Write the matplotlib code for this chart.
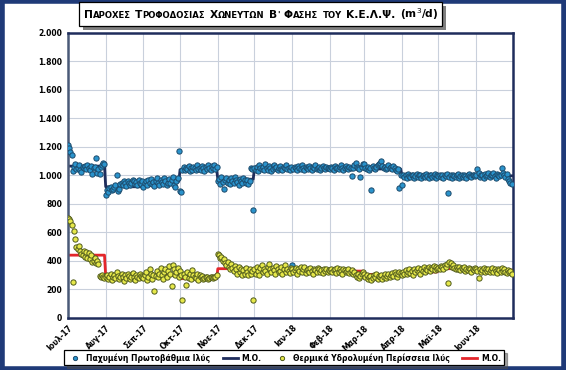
import numpy as np
import pandas as pd
import matplotlib.pyplot as plt
import matplotlib.dates as mdates
import matplotlib.patheffects as pe
from matplotlib.patches import Rectangle
from matplotlib.offsetbox import TextArea, HPacker, AnchoredOffsetbox
from matplotlib.ticker import FuncFormatter

# daily values, Jul 2017 - Jun 2018 (m3/d)
# Παχυμένη Πρωτοβάθμια Ιλύς
pp = [
    [1210, 1190, 1165, 1145, 1030, 1060, 1080, 1045, 1050, 1070, 1040, 1025, 1060, 1055, 1065, 1045,
     1075, 1050, 1040, 1065, 1010, 1050, 1060, 1120, 1020, 1045, 1010, 1060, 1075, 1090, 1080],
    [860, 900, 885, 910, 920, 895, 905, 915, 930, 1000, 890, 905, 940, 950, 930, 960,
     945, 925, 960, 950, 935, 945, 970, 960, 940, 955, 930, 965, 950, 940, 960],
    [920, 945, 960, 930, 965, 950, 975, 940, 955, 925, 960, 980, 945, 930, 970, 955,
     940, 985, 960, 930, 950, 975, 945, 965, 990, 935, 920, 960, 980, 1170],
    [890, 880, 1040, 1060, 1035, 1050, 1045, 1065, 1030, 1055, 1040, 1060, 1050, 1035, 1070, 1045,
     1055, 1040, 1065, 1050, 1030, 1060, 1045, 1075, 1055, 1040, 1065, 1050, 1070, 1045, 1060],
    [960, 975, 940, 990, 955, 905, 970, 985, 950, 965, 940, 980, 960, 945, 990, 970,
     955, 935, 975, 960, 945, 985, 965, 950, 970, 940, 960, 1050, 1045, 760],
    [1050, 1040, 1060, 1030, 1075, 1050, 1045, 1060, 1035, 1080, 1050, 1040, 1065, 1055, 1030, 1045,
     1070, 1050, 1060, 1040, 1055, 1065, 1045, 1035, 1060, 1050, 1070, 1045, 1055, 1040, 1060],
    [370, 1045, 1060, 1050, 1040, 1065, 1055, 1045, 1070, 1050, 1040, 1060, 1055, 1045, 1065, 1050,
     1040, 1060, 1055, 1070, 1045, 1050, 1060, 1040, 1055, 1065, 1050, 1045, 1060, 1055, 1050],
    [1045, 1060, 1050, 1040, 1065, 1055, 1050, 1045, 1060, 1070, 1050, 1040, 1055, 1065,
     1050, 1045, 1060, 1055, 995, 1050, 1070, 1085, 1060, 1050, 1045, 990, 1060, 1080],
    [1080, 1055, 1045, 1060, 1040, 1050, 900, 1065, 1055, 1045, 1060, 1070, 1080, 1090, 1100, 1065,
     1050, 1060, 1045, 1055, 1070, 1050, 1060, 1045, 1065, 1055, 1040, 1030, 1045, 910, 1000],
    [935, 1005, 990, 1000, 985, 1010, 995, 990, 1005, 1000, 985, 995, 1010, 990, 1000,
     1005, 985, 995, 1000, 990, 1010, 995, 985, 1000, 1005, 990, 995, 1010, 985, 1000],
    [995, 1000, 990, 1005, 985, 1000, 995, 1010, 875, 990, 1000, 985, 1005, 995, 990, 1000,
     1010, 985, 995, 1000, 990, 1005, 995, 985, 1000, 1010, 995, 990, 1000, 1005, 995],
    [1000, 1045, 1020, 990, 1005, 1000, 985, 1010, 995, 1000, 1015, 990, 1005, 1000, 1020,
     995, 985, 1010, 1000, 995, 1005, 1050, 1020, 1000, 990, 1010, 975, 960, 950, 940],
]
# Θερμικά Υδρολυμένη Περίσσεια Ιλύς
th = [
    [700, 695, 680, 650, 255, 610, 550, 500, 480, 505, 470, 450, 440, 470, 430, 460,
     420, 455, 410, 440, 395, 400, 420, 385, 400, 380, 295, 285, 300, 290, 280],
    [290, 300, 275, 285, 310, 265, 290, 300, 280, 320, 295, 270, 285, 305, 290, 260,
     300, 280, 310, 295, 275, 290, 315, 285, 265, 300, 290, 280, 305, 295, 285],
    [280, 300, 320, 265, 290, 340, 310, 270, 300, 185, 295, 330, 285, 310, 350,
     300, 275, 320, 345, 290, 330, 365, 310, 225, 370, 340, 300, 320, 350, 290],
    [330, 300, 125, 310, 290, 232, 320, 280, 305, 270, 335, 300, 290, 280, 310, 265,
     300, 285, 295, 275, 280, 285, 290, 275, 280, 285, 290, 280, 285, 290, 300],
    [450, 440, 420, 430, 400, 410, 385, 370, 395, 360, 340, 380, 350, 330, 365,
     340, 310, 355, 320, 345, 300, 335, 310, 350, 320, 300, 340, 310, 330, 125],
    [340, 310, 360, 330, 300, 350, 370, 320, 345, 330, 310, 360, 380, 340, 320, 350,
     335, 310, 365, 345, 320, 330, 355, 310, 340, 370, 325, 345, 330, 315, 350],
    [345, 320, 335, 350, 310, 340, 330, 355, 320, 345, 360, 315, 335, 340, 325, 350,
     330, 310, 345, 335, 320, 350, 340, 325, 335, 315, 345, 330, 340, 320, 335],
    [330, 345, 320, 335, 340, 315, 350, 325, 340, 330, 310, 345, 335, 320,
     330, 340, 315, 325, 335, 310, 320, 300, 290, 310, 280, 295, 305, 320],
    [310, 290, 300, 275, 285, 295, 265, 280, 300, 290, 310, 275, 295, 285, 300, 270,
     290, 305, 280, 295, 310, 285, 300, 315, 295, 320, 305, 290, 310, 325, 315],
    [300, 320, 310, 335, 305, 325, 340, 315, 330, 300, 345, 320, 335, 350, 325,
     310, 340, 330, 355, 320, 345, 335, 360, 330, 350, 340, 365, 335, 355, 345],
    [350, 340, 365, 355, 345, 370, 360, 380, 246, 395, 385, 360, 370, 350, 340, 355,
     345, 360, 335, 350, 340, 355, 330, 345, 335, 350, 340, 325, 345, 335, 350],
    [340, 330, 281, 345, 320, 335, 350, 325, 340, 330, 345, 320, 335, 350, 325,
     340, 330, 315, 345, 335, 320, 350, 330, 340, 325, 315, 335, 320, 330, 310],
]
# monthly averages (Μ.Ο.)
pp_mean = [1065, 920, 958, 1040, 973, 1045, 1050, 1050, 1045, 1000, 997, 997]
th_mean = [440, 290, 300, 275, 345, 335, 333, 328, 305, 322, 345, 335]

month_labels = ['Ιουλ-17', 'Αυγ-17', 'Σεπ-17', 'Οκτ-17', 'Νοε-17', 'Δεκ-17',
                'Ιαν-18', 'Φεβ-18', 'Μαρ-18', 'Απρ-18', 'Μαϊ-18', 'Ιουν-18']

days = sum(len(m) for m in pp)
dates = pd.date_range('2017-07-01', periods=days, freq='D')
pp_daily = np.concatenate(pp)
th_daily = np.concatenate(th)
pp_mean_daily = np.repeat(pp_mean, [len(m) for m in pp])
th_mean_daily = np.repeat(th_mean, [len(m) for m in th])

navy = '#1f2d5c'
fig = plt.figure(figsize=(5.66, 3.70), dpi=100)
ax = fig.add_axes([0.120, 0.141, 0.786, 0.770])

ax.plot(dates, pp_mean_daily, color=navy, lw=2, zorder=2, label='Μ.Ο.')
ax.plot(dates, th_mean_daily, color='#e3262b', lw=2, zorder=2, label='Μ.Ο.')
ax.plot(dates, pp_daily, ls='none', marker='o', ms=3.8, mfc='#2a93cc', mec='#1c4a6b',
        mew=0.7, zorder=3, label='Παχυμένη Πρωτοβάθμια Ιλύς')
ax.plot(dates, th_daily, ls='none', marker='o', ms=3.8, mfc='#e6e84a', mec='#4f5a1c',
        mew=0.7, zorder=3, label='Θερμικά Υδρολυμένη Περίσσεια Ιλύς')

ax.set_ylim(0, 2000)
ax.set_yticks(np.arange(0, 2001, 200))
ax.yaxis.set_major_formatter(FuncFormatter(lambda v, p: f'{int(v):,}'.replace(',', '.')))
ax.set_xlim(pd.Timestamp('2017-07-01'), pd.Timestamp('2018-07-01'))
ax.xaxis.set_major_locator(mdates.MonthLocator())
ticks = ax.get_xticks()[:12]
ax.set_xticks(ticks)
ax.set_xticklabels(month_labels, rotation=45, ha='right', rotation_mode='anchor')
ax.tick_params(length=0, labelsize=5.5, pad=4)
for t in ax.get_xticklabels() + ax.get_yticklabels():
    t.set_fontweight('bold')
ax.grid(color='#c9d0dc', lw=0.8)
ax.set_axisbelow(True)
for s in ax.spines.values():
    s.set_color(navy)
    s.set_linewidth(1.8)
ax.spines['left'].set_color('#4a5a78')

# legend
h, l = ax.get_legend_handles_labels()
order = [2, 0, 3, 1]
leg = fig.legend([h[i] for i in order], [l[i] for i in order], loc='center',
                 bbox_to_anchor=(0.502, 0.033), ncol=4, fontsize=5.5, frameon=True,
                 fancybox=False, edgecolor='black', shadow=True, handlelength=2.0,
                 columnspacing=1.6, handletextpad=0.5, borderpad=0.35, markerscale=0.8)
leg.get_frame().set_linewidth(0.9)
for t in leg.get_texts():
    t.set_fontweight('bold')

# title in small caps
title_words = ['Παροχες', 'Τροφοδοσιας', 'Χωνευτων', "Β'", 'Φασης', 'του', 'Κ.Ε.Λ.Ψ.']
big, small = 7.7, 6.1
words = []
for w in title_words:
    parts = []
    if '.' in w:
        parts.append(TextArea(w, textprops=dict(size=big, weight='bold')))
    elif w[0].isupper():
        parts.append(TextArea(w[0], textprops=dict(size=big, weight='bold')))
        if len(w) > 1:
            parts.append(TextArea(w[1:].upper(), textprops=dict(size=small, weight='bold')))
    else:
        parts.append(TextArea(w.upper(), textprops=dict(size=small, weight='bold')))
    words.append(HPacker(children=parts, align='baseline', pad=0, sep=0))
words.append(TextArea('(m$^3$/d)', textprops=dict(size=big, weight='bold')))
title = HPacker(children=words, align='baseline', pad=0, sep=3.2)
tbox = AnchoredOffsetbox(loc='center', child=title, pad=0.3, borderpad=0, frameon=True,
                         bbox_to_anchor=(0.461, 0.961), bbox_transform=fig.transFigure)
tbox.patch.set_edgecolor('black')
tbox.patch.set_linewidth(0.9)
tbox.patch.set_boxstyle('square', pad=0)
tbox.patch.set_path_effects([pe.SimplePatchShadow(offset=(2.5, -2.5), shadow_rgbFace='#808080', alpha=1),
                             pe.Normal()])
fig.add_artist(tbox)

# outer frame
fig.patches.append(Rectangle((0.003, 0.004), 0.994, 0.992, transform=fig.transFigure,
                             fill=False, edgecolor='#1f3a78', lw=4))

fig.savefig('out.png', dpi=100)
